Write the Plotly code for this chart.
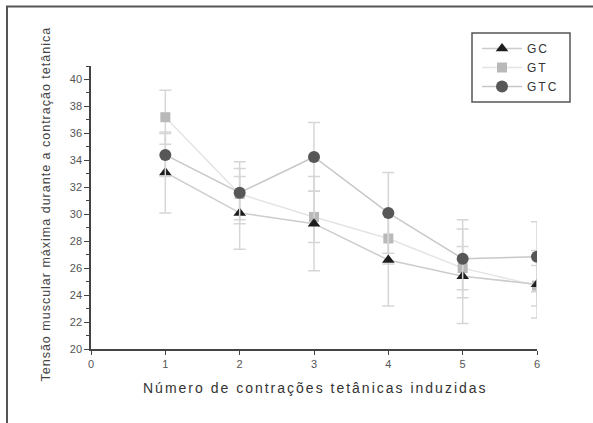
import plotly.graph_objects as go

x_vals = [1, 2, 3, 4, 5, 6]
gc_mean = [33.1, 30.1, 29.3, 26.6, 25.4, 24.8]
gc_err = [3.0, 2.7, 3.5, 3.4, 3.5, 2.5]
gt_mean = [37.2, 31.5, 29.8, 28.2, 26.0, 24.7]
gt_err = [2.0, 1.9, 1.9, 1.9, 1.6, 1.5]
gtc_mean = [34.4, 31.6, 34.25, 30.1, 26.7, 26.85]
gtc_err = [1.6, 2.3, 2.55, 3.0, 2.9, 2.6]

series_names = ["GC", "GT", "GTC"]
x_tick_vals = [0, 1, 2, 3, 4, 5, 6]
y_tick_vals = [20, 22, 24, 26, 28, 30, 32, 34, 36, 38, 40]

y_title = "Tensão muscular máxima durante a contração tetânica"
x_title = "Número de contrações tetânicas induzidas"

ERR_COLOR = "#d6d6d6"


def spaced(txt, sp):
    return '<span style="letter-spacing:%spx">%s</span>' % (sp, txt)


fig = go.Figure()

fig.add_trace(go.Scatter(
    x=x_vals, y=gt_mean, name=spaced(series_names[1], 2), mode="lines+markers",
    line=dict(color="#e4e4e4", width=1.5),
    marker=dict(symbol="square", size=10, color="#b9b9b9"),
    error_y=dict(type="data", array=gt_err, color=ERR_COLOR, thickness=1.5, width=6),
    legendrank=2,
))
fig.add_trace(go.Scatter(
    x=x_vals, y=gc_mean, name=spaced(series_names[0], 2), mode="lines+markers",
    line=dict(color="#cccccc", width=1.5),
    marker=dict(symbol="triangle-up", size=11, color="#1e1e1e"),
    error_y=dict(type="data", array=gc_err, color=ERR_COLOR, thickness=1.5, width=6),
    legendrank=1,
))
fig.add_trace(go.Scatter(
    x=x_vals, y=gtc_mean, name=spaced(series_names[2], 2), mode="lines+markers",
    line=dict(color="#c8c8c8", width=1.5),
    marker=dict(symbol="circle", size=12, color="#575757"),
    error_y=dict(type="data", array=gtc_err, color=ERR_COLOR, thickness=1.5, width=6),
    legendrank=3,
))

W, H = 593, 423
L, R, T, B = 91, 56, 66, 74
pw = W - L - R
ph = H - T - B


def px_x(px):
    return (px - L) / pw


def px_y(py):
    return (H - B - py) / ph


fig.update_layout(
    width=W, height=H,
    margin=dict(l=L, r=R, t=T, b=B),
    paper_bgcolor="white", plot_bgcolor="white",
    font=dict(family="Arial, Liberation Sans, sans-serif", color="#444444"),
    showlegend=True,
    legend=dict(
        x=px_x(477), y=px_y(34), xanchor="left", yanchor="top",
        borderwidth=0, bgcolor="rgba(0,0,0,0)",
        font=dict(size=12, color="#333333"),
        itemwidth=40,
        tracegroupgap=0,
    ),
    xaxis=dict(
        range=[0, 6], tickvals=x_tick_vals, showgrid=False, zeroline=False,
        showline=True, linecolor="#444444", linewidth=1.5,
        ticks="outside", ticklen=4, tickcolor="#444444",
        tickfont=dict(size=11, color="#555555"),
    ),
    yaxis=dict(
        range=[20, 41], tickvals=y_tick_vals, showgrid=False, zeroline=False,
        showline=True, linecolor="#444444", linewidth=1.5,
        ticks="outside", ticklen=5, tickcolor="#444444",
        tickfont=dict(size=11, color="#555555"),
        minor=dict(dtick=1, ticks="outside", ticklen=3, tickcolor="#444444"),
    ),
    annotations=[
        dict(text=spaced(y_title, 1.0), xref="paper", yref="paper", x=px_x(45), y=px_y(384),
             xanchor="center", yanchor="bottom", textangle=-90, showarrow=False,
             font=dict(size=12.5, color="#444444")),
        dict(text=spaced(x_title, 2), xref="paper", yref="paper", x=px_x(315), y=px_y(388),
             xanchor="center", yanchor="middle", showarrow=False,
             font=dict(size=14, color="#333333")),
    ],
    shapes=[
        dict(type="line", xref="paper", yref="paper", x0=px_x(7), x1=px_x(7),
             y0=px_y(6), y1=px_y(H), line=dict(color="#555555", width=2)),
        dict(type="line", xref="paper", yref="paper", x0=px_x(6), x1=px_x(W),
             y0=px_y(6.5), y1=px_y(6.5), line=dict(color="#555555", width=2)),
        dict(type="rect", xref="paper", yref="paper", x0=px_x(472), x1=px_x(570),
             y0=px_y(102), y1=px_y(33), line=dict(color="#555555", width=1.5)),
    ],
)

fig.write_html("out.html", config={"displayModeBar": False},
               post_script="document.body.style.margin='0';")
